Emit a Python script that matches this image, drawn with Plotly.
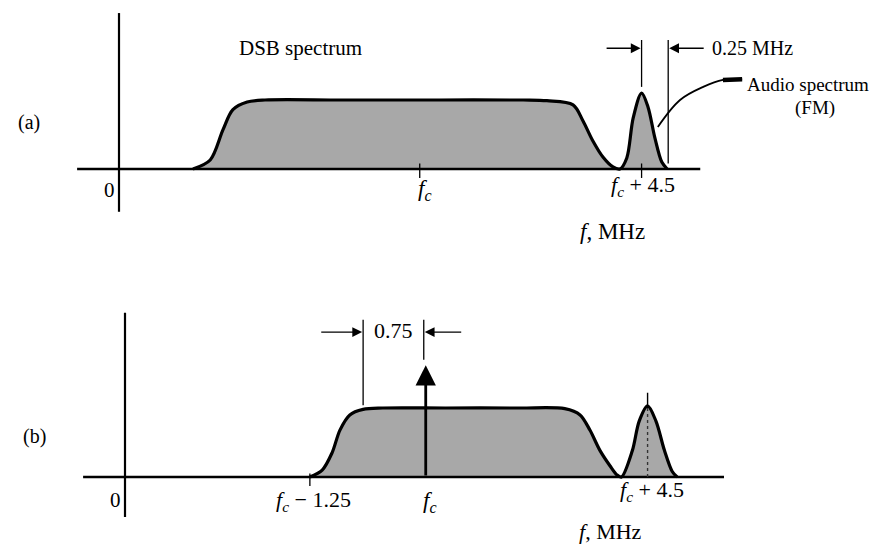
import plotly.graph_objects as go

# ---------------- data (schematic frequency axis in MHz of the drawing, relative amplitude) -------------
FC = 6.1            # carrier f_c position
FC_M125 = 3.75      # drawn position of f_c - 1.25
AUDIO = 10.6        # f_c + 4.5 (audio carrier)
CARRIER_AMP = 1.62  # height of carrier arrow in (b)

# panel (a): DSB spectrum + FM audio spectrum outline
a_freq = [1.50, 1.85, 2.11, 2.31, 2.60, 2.96, 4.5, 6.5, 8.2, 8.68, 9.21, 9.41, 9.61, 9.82, 10.02,
          10.16, 10.30, 10.43, 10.60, 10.73, 10.87, 11.01, 11.12]
a_amp = [0.0, 0.13, 0.57, 0.86, 0.97, 1.0, 1.0, 1.0, 1.0, 0.99, 0.93, 0.70, 0.41, 0.17, 0.03,
         0.0, 0.16, 0.74, 1.10, 0.90, 0.45, 0.10, 0.0]
a_base = [-0.85, 11.79]          # horizontal axis extent
a_vaxis = [-0.62, 2.26]          # vertical axis extent
a_ticks = [FC, AUDIO]

# panel (b): vestigial-sideband spectrum + FM audio spectrum outline
b_freq = [3.75, 4.00, 4.20, 4.36, 4.56, 4.83, 5.23, 6.5, 8.0, 8.92, 9.23, 9.43, 9.63, 9.84, 9.98,
          10.07, 10.29, 10.43, 10.60, 10.77, 10.94, 11.10, 11.20]
b_amp = [0.0, 0.10, 0.35, 0.68, 0.90, 0.98, 1.0, 1.0, 1.0, 0.99, 0.90, 0.68, 0.39, 0.16, 0.03,
         0.0, 0.38, 0.81, 1.03, 0.81, 0.39, 0.08, 0.0]
b_base = [-0.85, 12.15]
b_vaxis = [-0.58, 2.38]
b_ticks = [FC_M125]

# leader curve from audio spectrum to its label
lead_f = [10.93, 11.38, 11.85, 12.25, 12.64]
lead_a = [0.61, 1.00, 1.19, 1.29, 1.30]

FILL = "#a8a8a8"
SERIF = "Liberation Serif"

fig = go.Figure()


def line(xs, ys, ax, width=1.3, color="black", dash="solid", shape="linear"):
    fig.add_trace(go.Scatter(x=xs, y=ys, mode="lines", xaxis=ax[0], yaxis=ax[1],
                             line=dict(color=color, width=width, dash=dash, shape=shape),
                             hoverinfo="skip", showlegend=False))


A = ("x", "y")
B = ("x2", "y2")

# ---------- panel (a) ----------
fig.add_trace(go.Scatter(x=a_freq, y=a_amp, mode="lines", fill="tozeroy", fillcolor=FILL,
                         line=dict(color="black", width=3.2, shape="spline", smoothing=0.9),
                         xaxis="x", yaxis="y", hoverinfo="skip", showlegend=False))
line(a_base, [0, 0], A, width=2.6)
line([0, 0], a_vaxis, A, width=2.2)
for t in a_ticks:
    line([t, t], [-0.13, 0.08], A, width=1.3)
# dimension lines for 0.25 MHz
line([AUDIO, AUDIO], [1.19, 1.87], A, width=1.3)
line([11.14, 11.14], [0.08, 1.87], A, width=1.3)
# leader curve
line(lead_f, lead_a, A, width=1.8, shape="spline")
line(lead_f[-2:], lead_a[-2:], A, width=4.5)

# ---------- panel (b) ----------
fig.add_trace(go.Scatter(x=b_freq, y=b_amp, mode="lines", fill="tozeroy", fillcolor=FILL,
                         line=dict(color="black", width=3.2, shape="spline", smoothing=0.9),
                         xaxis="x2", yaxis="y2", hoverinfo="skip", showlegend=False))
line(b_base, [0, 0], B, width=2.6)
line([0, 0], b_vaxis, B, width=2.2)
for t in b_ticks:
    line([t, t], [-0.13, 0.05], B, width=1.3)
line([AUDIO, AUDIO], [0.0, 1.0], B, width=1.4, color="#333333", dash="dot")
line([AUDIO, AUDIO], [1.0, 1.22], B, width=1.4)
# dimension lines for 0.75
line([4.83, 4.83], [1.04, 2.28], B, width=1.3)
line([FC - 0.04, FC - 0.04], [1.70, 2.28], B, width=1.3)

# ---------- annotations ----------
ann = []


def text(x, y, s, ax, size=20, xanchor="center"):
    ann.append(dict(x=x, y=y, xref=ax[0], yref=ax[1], text=s, showarrow=False,
                    xanchor=xanchor, yanchor="middle",
                    font=dict(family=SERIF, size=size, color="black")))


def arrow(x, y, x0, y0, ax, width=1.4, size=1.4, head=2):
    ann.append(dict(x=x, y=y, ax=x0, ay=y0, xref=ax[0], yref=ax[1], axref=ax[0], ayref=ax[1],
                    text="", showarrow=True, arrowhead=head, arrowsize=size, arrowwidth=width,
                    arrowcolor="black", standoff=0, startstandoff=0))


FC_TXT = "<i>f</i><sub><i>c</i></sub>"
FMHZ = "<i>f</i>,\u00a0MHz"

# (a)
text(3.69, 1.76, "DSB spectrum", A, size=21)
text(-1.83, 0.68, "(a)", A, size=20)
text(-0.20, -0.30, "0", A, size=21)
text(FC + 0.1, -0.30, FC_TXT, A, size=23)
text(AUDIO + 0.03, -0.24, FC_TXT + " + 4.5", A, size=22)
text(10.0, -0.90, FMHZ, A, size=23)
text(11.99, 1.75, "0.25 MHz", A, size=20, xanchor="left")
text(12.70, 1.22, "Audio spectrum", A, size=19, xanchor="left")
text(14.12, 0.88, "(FM)", A, size=19)
arrow(AUDIO - 0.02, 1.75, 9.86, 1.75, A)
arrow(11.16, 1.75, 11.89, 1.75, A)

# (b)
text(-1.83, 0.58, "(b)", B, size=20)
text(-0.20, -0.33, "0", B, size=21)
text(FC_M125 + 0.08, -0.35, FC_TXT + " \u2212 1.25", B, size=22)
text(FC + 0.09, -0.36, FC_TXT, B, size=23)
text(AUDIO + 0.09, -0.21, FC_TXT + " + 4.5", B, size=22)
text(9.84, -0.79, FMHZ, B, size=22)
text(5.44, 2.12, "0.75", B, size=22)
arrow(4.81, 2.10, 3.95, 2.10, B)
arrow(FC - 0.02, 2.10, 6.85, 2.10, B)
arrow(FC, CARRIER_AMP, FC, 0.0, B, width=2.8, size=1.45, head=2)

fig.update_layout(
    width=879, height=545,
    margin=dict(l=0, r=0, t=0, b=0),
    paper_bgcolor="white", plot_bgcolor="white",
    showlegend=False,
    annotations=ann,
    xaxis=dict(range=[-2.4138, 15.4158], domain=[0, 1], anchor="y", visible=False, fixedrange=True),
    yaxis=dict(range=[-1.5, 2.4493], domain=[0.5, 1], anchor="x", visible=False, fixedrange=True),
    xaxis2=dict(range=[-2.5355, 15.2941], domain=[0, 1], anchor="y2", visible=False, fixedrange=True),
    yaxis2=dict(range=[-0.9855, 2.9638], domain=[0, 0.5], anchor="x2", visible=False, fixedrange=True),
)

fig.write_html("out.html", config={"displayModeBar": False},
               post_script="document.body.style.margin='0';document.body.style.overflow='hidden';")
